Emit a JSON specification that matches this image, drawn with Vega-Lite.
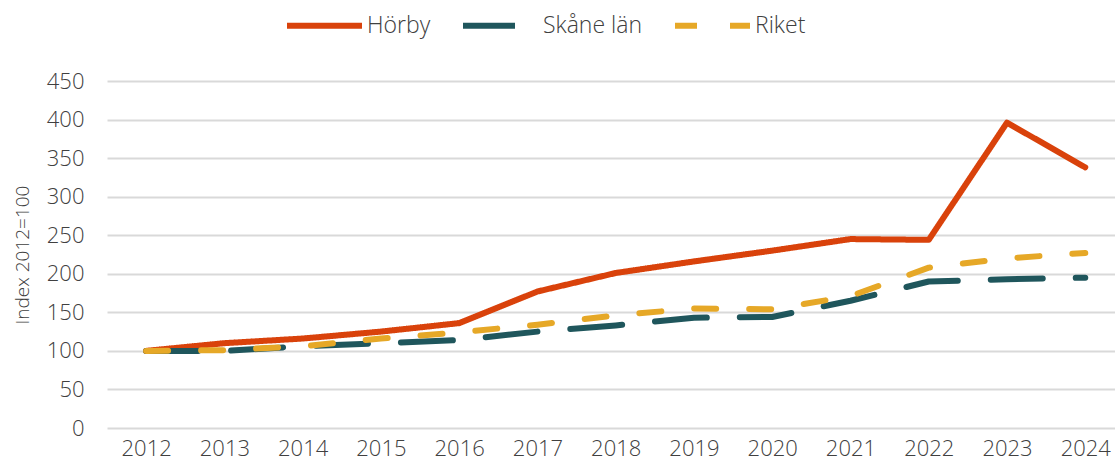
{
  "$schema": "https://vega.github.io/schema/vega-lite/v6.json",
  "autosize": "none",
  "width": 1008,
  "height": 347,
  "padding": {"left": 107, "top": 81, "right": 0, "bottom": 40},
  "background": "white",
  "config": {
    "font": "Open Sans",
    "view": {"stroke": null},
    "axis": {"labelFont": "Open Sans", "titleFont": "Open Sans", "labelFontWeight": 300, "titleFontWeight": 300, "labelColor": "#404040", "titleColor": "#404040"},
    "legend": {"labelFont": "Open Sans", "labelFontWeight": 300}
  },
  "data": {
    "values": [
      {"year": 2012, "serie": "Hörby", "value": 100},
      {"year": 2013, "serie": "Hörby", "value": 110},
      {"year": 2014, "serie": "Hörby", "value": 116},
      {"year": 2015, "serie": "Hörby", "value": 125},
      {"year": 2016, "serie": "Hörby", "value": 136},
      {"year": 2017, "serie": "Hörby", "value": 177},
      {"year": 2018, "serie": "Hörby", "value": 201},
      {"year": 2019, "serie": "Hörby", "value": 216},
      {"year": 2020, "serie": "Hörby", "value": 230},
      {"year": 2021, "serie": "Hörby", "value": 245},
      {"year": 2022, "serie": "Hörby", "value": 244},
      {"year": 2023, "serie": "Hörby", "value": 396},
      {"year": 2024, "serie": "Hörby", "value": 338},
      {"year": 2012, "serie": "Skåne län", "value": 100},
      {"year": 2013, "serie": "Skåne län", "value": 100},
      {"year": 2014, "serie": "Skåne län", "value": 106},
      {"year": 2015, "serie": "Skåne län", "value": 110},
      {"year": 2016, "serie": "Skåne län", "value": 114},
      {"year": 2017, "serie": "Skåne län", "value": 125},
      {"year": 2018, "serie": "Skåne län", "value": 133},
      {"year": 2019, "serie": "Skåne län", "value": 143},
      {"year": 2020, "serie": "Skåne län", "value": 144},
      {"year": 2021, "serie": "Skåne län", "value": 165},
      {"year": 2022, "serie": "Skåne län", "value": 190},
      {"year": 2023, "serie": "Skåne län", "value": 193},
      {"year": 2024, "serie": "Skåne län", "value": 195},
      {"year": 2012, "serie": "Riket", "value": 100},
      {"year": 2013, "serie": "Riket", "value": 101},
      {"year": 2014, "serie": "Riket", "value": 106},
      {"year": 2015, "serie": "Riket", "value": 116},
      {"year": 2016, "serie": "Riket", "value": 124},
      {"year": 2017, "serie": "Riket", "value": 134},
      {"year": 2018, "serie": "Riket", "value": 146},
      {"year": 2019, "serie": "Riket", "value": 155},
      {"year": 2020, "serie": "Riket", "value": 154},
      {"year": 2021, "serie": "Riket", "value": 171},
      {"year": 2022, "serie": "Riket", "value": 208},
      {"year": 2023, "serie": "Riket", "value": 220},
      {"year": 2024, "serie": "Riket", "value": 227}
    ]
  },
  "mark": {"type": "line", "strokeWidth": 6, "strokeCap": "round", "strokeJoin": "round"},
  "encoding": {
    "x": {
      "field": "year", "type": "quantitative",
      "scale": {"domain": [2011.5, 2024.38], "nice": false, "zero": false},
      "axis": {
        "values": [2012, 2013, 2014, 2015, 2016, 2017, 2018, 2019, 2020, 2021, 2022, 2023, 2024],
        "format": "d", "title": null, "grid": false, "domain": false, "ticks": false,
        "labelFontSize": 22, "labelPadding": 10, "labelFlush": false
      }
    },
    "y": {
      "field": "value", "type": "quantitative",
      "scale": {"domain": [0, 450], "nice": false},
      "axis": {
        "values": [0, 50, 100, 150, 200, 250, 300, 350, 400, 450],
        "title": "Index 2012=100", "titleFontSize": 19,
        "titlePadding": 14,
        "grid": true, "gridColor": "#d9d9d9", "gridWidth": 2,
        "domain": false, "ticks": false,
        "labelFontSize": 22, "labelPadding": 23
      }
    },
    "color": {
      "field": "serie", "type": "nominal",
      "scale": {"domain": ["Hörby", "Skåne län", "Riket"], "range": ["#D9420B", "#1F565C", "#E6A827"]},
      "legend": {
        "title": null, "orient": "none", "direction": "horizontal",
        "legendX": 177, "legendY": -96,
        "symbolType": "stroke", "symbolStrokeWidth": 6, "symbolSize": 5625,
        "labelFontSize": 23, "labelColor": "#404040", "columnPadding": 20, "labelOffset": 2
      }
    },
    "strokeDash": {
      "field": "serie", "type": "nominal",
      "scale": {"domain": ["Hörby", "Skåne län", "Riket"], "range": [[1, 0], [52, 33], [22, 33]]},
      "legend": null
    }
  }
}
